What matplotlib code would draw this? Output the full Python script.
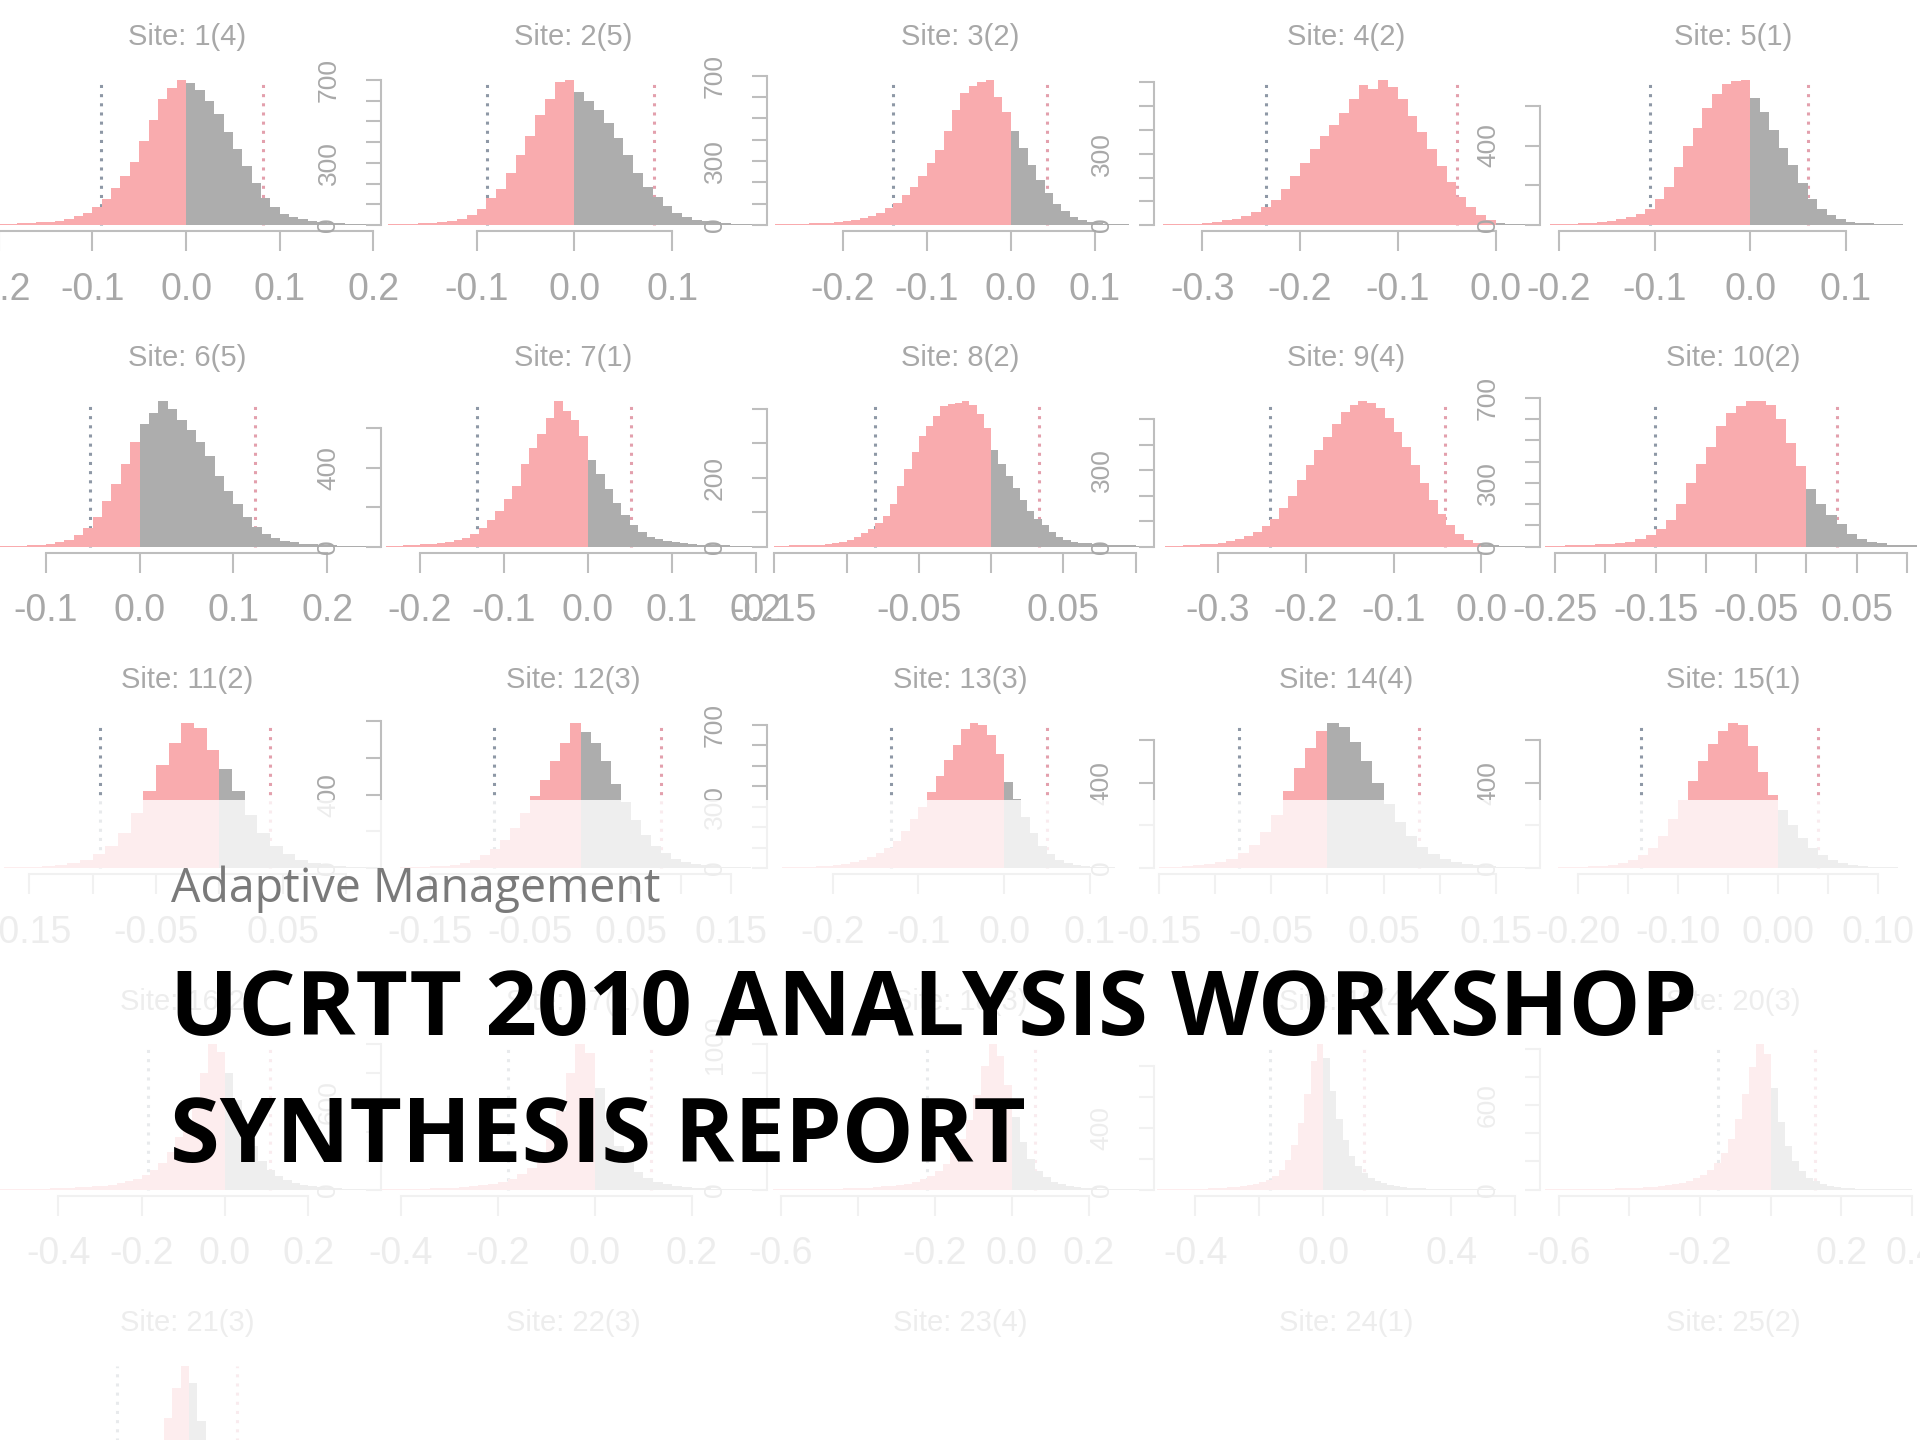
import numpy as np
import matplotlib
matplotlib.use("Agg")
import matplotlib.pyplot as plt
from matplotlib.patches import Rectangle

# panel titles, row by row (5 x 5 grid, bottom row is cut off)
titles = ["Site: 1(4)", "Site: 2(5)", "Site: 3(2)", "Site: 4(2)", "Site: 5(1)",
          "Site: 6(5)", "Site: 7(1)", "Site: 8(2)", "Site: 9(4)", "Site: 10(2)",
          "Site: 11(2)", "Site: 12(3)", "Site: 13(3)", "Site: 14(4)", "Site: 15(1)",
          "Site: 16(2)", "Site: 17(1)", "Site: 18(3)", "Site: 19(4)", "Site: 20(3)",
          "Site: 21(3)", "Site: 22(3)", "Site: 23(4)", "Site: 24(1)", "Site: 25(2)"]

# histogram counts (first bin edge in bin_starts, width in bin_widths)
site1 = [5, 6, 8, 10, 13, 17, 22, 30, 42, 58, 85, 125, 175, 235, 300, 400, 500, 600, 650, 690,
         675, 640, 590, 530, 440, 360, 280, 200, 130, 85, 55, 40, 28, 20, 16, 12, 10, 7, 5, 4]
site2 = [4, 5, 7, 9, 11, 14, 20, 30, 48, 80, 130, 175, 250, 340, 430, 530, 610, 690, 700,
         640, 600, 555, 490, 420, 340, 250, 185, 135, 90, 60, 40, 26, 18, 13, 9, 7, 5, 4]
site3 = [4, 5, 6, 7, 8, 10, 12, 15, 19, 24, 32, 42, 58, 80, 105, 140, 180, 230, 290, 350,
         440, 540, 620, 650, 670, 680, 600, 530, 440, 360, 280, 210, 150, 100, 65, 38, 22, 14,
         10, 7, 5, 4, 3, 3]
site4 = [3, 4, 5, 7, 10, 14, 20, 28, 40, 55, 75, 105, 150, 205, 260, 320, 375, 420, 470, 530,
         590, 570, 610, 580, 530, 460, 390, 320, 250, 180, 120, 75, 42, 20, 8, 5, 4, 3]
site5 = [4, 5, 7, 9, 11, 14, 20, 30, 42, 55, 80, 130, 190, 290, 400, 490, 590, 660, 710, 725,
         730, 640, 570, 480, 390, 300, 210, 130, 80, 50, 30, 18, 12, 9, 7, 5, 4, 3]
site6 = [4, 5, 6, 8, 11, 15, 22, 35, 60, 95, 150, 230, 320, 420, 530, 620, 680, 737, 700, 640,
         590, 530, 460, 360, 280, 215, 150, 100, 65, 45, 30, 22, 16, 12, 9, 7, 6, 5, 4, 3]
site7 = [4, 5, 7, 9, 12, 15, 19, 24, 32, 45, 65, 95, 135, 180, 240, 310, 420, 500, 570, 650,
         737, 690, 640, 560, 440, 370, 290, 220, 160, 110, 75, 50, 38, 28, 22, 18, 14, 11, 9, 8,
         7, 6, 5, 4]
site8 = [3, 3, 4, 4, 5, 5, 6, 8, 10, 13, 18, 28, 40, 52, 68, 90, 125, 175, 225, 275,
         320, 350, 380, 408, 413, 418, 422, 410, 385, 345, 280, 240, 205, 170, 135, 105, 80, 62,
         42, 28, 20, 15, 12, 10, 8, 7, 6, 5, 4, 4, 3, 3]
site9 = [3, 4, 5, 7, 9, 12, 16, 22, 30, 42, 58, 80, 110, 150, 200, 260, 320, 380, 430, 480,
         530, 555, 570, 565, 545, 505, 450, 390, 320, 250, 185, 130, 85, 50, 28, 15, 8, 5, 3, 2, 2]
site10 = [4, 5, 6, 7, 9, 11, 13, 17, 24, 35, 55, 85, 125, 200, 300, 390, 470, 570, 630, 660,
          684, 684, 665, 600, 490, 380, 270, 200, 150, 105, 60, 35, 22, 15, 10, 8, 6]
site11 = [4, 6, 8, 12, 18, 28, 45, 75, 120, 190, 300, 420, 560, 680, 790, 760, 640, 540, 420, 290,
          190, 120, 75, 45, 28, 18, 12, 8, 5]
site12 = [3, 4, 5, 7, 10, 14, 20, 30, 45, 70, 105, 155, 220, 300, 390, 480, 580, 680, 790, 740,
          680, 580, 460, 360, 260, 180, 120, 80, 52, 34, 22, 15, 10, 7, 5, 4, 3]
site13 = [3, 4, 5, 6, 8, 10, 13, 17, 22, 30, 40, 55, 75, 100, 135, 180, 240, 300, 370, 450,
          530, 600, 680, 710, 700, 650, 560, 420, 340, 250, 170, 110, 70, 42, 25, 15, 10, 7, 5, 4,
          3, 2, 2, 2]
site14 = [4, 6, 9, 13, 20, 30, 45, 70, 110, 170, 250, 360, 470, 560, 640, 680, 660, 590, 500, 400,
          300, 215, 150, 100, 65, 42, 28, 19, 13, 9, 7, 5, 4]
site15 = [3, 4, 5, 7, 9, 12, 17, 25, 38, 60, 95, 150, 230, 320, 410, 500, 580, 640, 680, 670,
          570, 450, 340, 270, 200, 140, 95, 60, 38, 24, 15, 10, 7, 5, 4, 3, 2]
site16 = [3, 4, 5, 6, 7, 8, 10, 12, 14, 16, 19, 23, 28, 35, 45, 58, 75, 100, 135, 185,
          260, 360, 470, 620, 800, 1000, 950, 800, 620, 430, 300, 200, 135, 95, 65, 45, 32, 24,
          18, 14, 11, 8, 6, 5, 4]
site17 = [3, 4, 5, 6, 7, 9, 11, 14, 18, 23, 30, 40, 55, 75, 105, 150, 230, 350, 540, 800,
          1000, 940, 700, 470, 300, 190, 120, 80, 55, 38, 27, 20, 15, 11, 8, 6, 5, 4, 3]
site18 = [2, 3, 3, 4, 4, 5, 6, 7, 8, 9, 11, 13, 15, 18, 22, 27, 33, 42, 55, 72,
          95, 130, 180, 250, 350, 480, 650, 850, 1000, 920, 720, 500, 330, 210, 130, 85, 55, 37,
          25, 18, 13, 10, 7, 5, 4, 3, 2, 2]
site19 = [2, 3, 3, 4, 4, 5, 6, 7, 8, 10, 12, 15, 18, 22, 28, 36, 48, 65, 90, 130,
          190, 290, 430, 620, 830, 940, 850, 640, 460, 320, 220, 150, 105, 75, 55, 40, 30, 23,
          18, 14, 11, 9, 7, 6, 5, 4, 4, 3, 3, 2, 2, 2, 2, 1, 1, 1, 1]
site20 = [2, 2, 3, 3, 4, 4, 5, 6, 7, 8, 9, 11, 13, 15, 18, 22, 27, 33, 40, 50,
          63, 80, 105, 140, 190, 260, 360, 500, 680, 870, 1030, 960, 720, 480, 310, 200, 130, 85,
          58, 40, 28, 20, 15, 11, 8, 6, 5, 4, 3, 2, 2, 2, 1]
site21 = [2, 3, 3, 4, 5, 6, 7, 9, 11, 14, 18, 23, 30, 40, 55, 80, 120, 190, 300, 450,
          640, 850, 1000, 880, 620, 420, 270, 170, 110, 72, 48, 33, 23, 16, 12, 9, 7, 5, 4, 3,
          3, 2, 2, 2, 1]

counts = [site1, site2, site3, site4, site5, site6, site7, site8, site9, site10, site11,
          site12, site13, site14, site15, site16, site17, site18, site19, site20, site21]

bin_starts = [-0.20, -0.19, -0.28, -0.34, -0.21,
              -0.15, -0.24, -0.15, -0.36, -0.26,
              -0.17, -0.19, -0.27, -0.15, -0.23,
              -0.54, -0.44, -0.62, -0.52, -0.64,
              -0.46]
bin_widths = [0.01, 0.01, 0.01, 0.01, 0.01,
              0.01, 0.01, 0.005, 0.01, 0.01,
              0.01, 0.01, 0.01, 0.01, 0.01,
              0.02, 0.02, 0.02, 0.02, 0.02,
              0.02]

# dotted interval limits
ci_low = [-0.091, -0.089, -0.140, -0.235, -0.105,
          -0.053, -0.132, -0.080, -0.241, -0.151,
          -0.094, -0.086, -0.132, -0.079, -0.137,
          -0.185, -0.179, -0.220, -0.167, -0.149,
          -0.173]
ci_high = [0.082, 0.081, 0.043, -0.039, 0.061,
           0.123, 0.051, 0.033, -0.042, 0.030,
           0.040, 0.080, 0.050, 0.082, 0.040,
           0.108, 0.115, 0.060, 0.128, 0.126,
           0.115]

# x ranges and tick labels as drawn in each panel
x_ranges = [(-0.205, 0.207), (-0.198, 0.196), (-0.290, 0.169), (-0.350, 0.045), (-0.220, 0.184),
            (-0.155, 0.256), (-0.247, 0.213), (-0.155, 0.112), (-0.373, 0.066), (-0.265, 0.119),
            (-0.178, 0.127), (-0.199, 0.185), (-0.277, 0.174), (-0.155, 0.189), (-0.238, 0.148),
            (-0.554, 0.372), (-0.442, 0.354), (-0.636, 0.366), (-0.531, 0.675), (-0.653, 0.440),
            (-0.468, 0.458)]
x_ticks = [[-0.2, -0.1, 0.0, 0.1, 0.2], [-0.1, 0.0, 0.1], [-0.2, -0.1, 0.0, 0.1],
           [-0.3, -0.2, -0.1, 0.0], [-0.2, -0.1, 0.0, 0.1],
           [-0.1, 0.0, 0.1, 0.2], [-0.2, -0.1, 0.0, 0.1, 0.2],
           [-0.15, -0.10, -0.05, 0.0, 0.05, 0.10], [-0.3, -0.2, -0.1, 0.0],
           [-0.25, -0.20, -0.15, -0.10, -0.05, 0.0, 0.05, 0.10],
           [-0.15, -0.10, -0.05, 0.0, 0.05, 0.10], [-0.15, -0.10, -0.05, 0.0, 0.05, 0.10, 0.15],
           [-0.2, -0.1, 0.0, 0.1], [-0.15, -0.10, -0.05, 0.0, 0.05, 0.10, 0.15],
           [-0.20, -0.15, -0.10, -0.05, 0.0, 0.05, 0.10],
           [-0.4, -0.2, 0.0, 0.2], [-0.4, -0.2, 0.0, 0.2], [-0.6, -0.4, -0.2, 0.0, 0.2],
           [-0.4, -0.2, 0.0, 0.2, 0.4, 0.6], [-0.6, -0.4, -0.2, 0.0, 0.2, 0.4],
           [-0.4, -0.2, 0.0, 0.2, 0.4]]
x_labels = [["-0.2", "-0.1", "0.0", "0.1", "0.2"], ["-0.1", "0.0", "0.1"],
            ["-0.2", "-0.1", "0.0", "0.1"], ["-0.3", "-0.2", "-0.1", "0.0"],
            ["-0.2", "-0.1", "0.0", "0.1"],
            ["-0.1", "0.0", "0.1", "0.2"], ["-0.2", "-0.1", "0.0", "0.1", "0.2"],
            ["-0.15", "", "-0.05", "", "0.05", ""], ["-0.3", "-0.2", "-0.1", "0.0"],
            ["-0.25", "", "-0.15", "", "-0.05", "", "0.05", ""],
            ["-0.15", "", "-0.05", "", "0.05", ""], ["-0.15", "", "-0.05", "", "0.05", "", "0.15"],
            ["-0.2", "-0.1", "0.0", "0.1"], ["-0.15", "", "-0.05", "", "0.05", "", "0.15"],
            ["-0.20", "", "-0.10", "", "0.00", "", "0.10"],
            ["-0.4", "-0.2", "0.0", "0.2"], ["-0.4", "-0.2", "0.0", "0.2"],
            ["-0.6", "", "-0.2", "0.0", "0.2"], ["-0.4", "", "0.0", "", "0.4", ""],
            ["-0.6", "", "-0.2", "", "0.2", "0.4"], ["-0.4", "-0.2", "0.0", "0.2", "0.4"]]

# y axis: tick step, top tick, labelled ticks
y_step = [100, 100, 100, 100, 200, 100, 200, 100, 100, 100, 200,
          200, 100, 200, 200, 200, 200, 200, 200, 200, 200]
y_top = [700, 700, 700, 600, 600, 700, 600, 400, 500, 700, 800,
         800, 700, 600, 600, 1000, 1000, 1000, 800, 1000, 1000]
y_shown = [(0, 300, 700), (0, 300, 700), (0, 300, 700), (0, 300), (0, 400),
           (0, 300, 700), (0, 400), (0, 200), (0, 300), (0, 300, 700),
           (0, 400), (0, 400), (0, 300, 700), (0, 400), (0, 400),
           (0, 600), (0, 600), (0, 1000), (0, 400), (0, 600),
           (0, 600)]

PINK = "#F9ABAE"
GREY = "#ADADAD"
AXIS_COL = "#BEBEBE"
TEXT_COL = "#A8A8A8"
LOW_COL = "#8E98A6"
HIGH_COL = "#E3A0AD"

W, H = 1920, 1440
COL_X0, COL_STEP, AX_W = -6, 386.5, 386
ROW_Y0, ROW_STEP, AX_H = 231, 321.5, 157

fig = plt.figure(figsize=(W / 100, H / 100), dpi=100)
fig.patch.set_facecolor("white")


def draw_panel(i):
    r, c = divmod(i, 5)
    left = COL_X0 + COL_STEP * c
    bottom = ROW_Y0 + ROW_STEP * r
    ax = fig.add_axes([left / W, 1 - bottom / H, AX_W / W, AX_H / H])
    ax.set_facecolor("none")

    h = np.array(counts[i], dtype=float)
    edges = np.round(bin_starts[i] + bin_widths[i] * np.arange(len(h) + 1), 4)
    k = np.searchsorted(edges, 0.0)
    top = h.max()

    ax.vlines([ci_low[i]], 0, top, colors=LOW_COL, linestyles=(0, (1, 2)), lw=2.2, zorder=1)
    ax.vlines([ci_high[i]], 0, top, colors=HIGH_COL, linestyles=(0, (1, 2)), lw=2.2, zorder=1)
    if k > 0:
        ax.stairs(h[:k], edges[:k + 1], fill=True, color=PINK, lw=0, zorder=2)
    if k < len(h):
        ax.stairs(h[k:], edges[k:], fill=True, color=GREY, lw=0, zorder=2)

    ax.set_xlim(*x_ranges[i])
    ax.set_ylim(-0.04 * top, 1.04 * top)

    for s in ("top", "right"):
        ax.spines[s].set_visible(False)
    for s in ("left", "bottom"):
        ax.spines[s].set_color(AXIS_COL)
        ax.spines[s].set_linewidth(1.5)

    xt = x_ticks[i]
    ax.set_xticks(xt)
    ax.set_xticklabels(x_labels[i], family=["Liberation Sans Narrow", "Liberation Sans"],
                       fontsize=27, color=TEXT_COL)
    ax.spines["bottom"].set_bounds(xt[0], xt[-1])

    yt = np.arange(0, y_top[i] + 1, y_step[i])
    ax.set_yticks(yt)
    ax.set_yticklabels([str(v) if v in y_shown[i] else "" for v in yt],
                       family="Liberation Sans", fontsize=19, color=TEXT_COL,
                       rotation=90, va="center")
    ax.spines["left"].set_bounds(0, y_top[i])

    ax.tick_params(axis="x", length=14.4, width=1.5, color=AXIS_COL, pad=15)
    ax.tick_params(axis="y", length=10.8, width=1.5, color=AXIS_COL, pad=18)


for i in range(len(counts)):
    draw_panel(i)

# titles (all 25, the last four panels show no histogram in the visible area)
for i, t in enumerate(titles):
    r, c = divmod(i, 5)
    cx = COL_X0 + COL_STEP * c + AX_W / 2
    cy = 37 + ROW_STEP * r
    fig.text(cx / W, 1 - cy / H, t, ha="center", va="center", fontsize=21,
             family="Liberation Sans", color=TEXT_COL)

# white wash over the lower part of the slide
fig.add_artist(Rectangle((0, 0), 1, 640 / H, transform=fig.transFigure,
                         facecolor="white", edgecolor="none", alpha=0.8, zorder=5))

fig.text(171 / W, 1 - 902 / H, "Adaptive Management", fontsize=33.5, color="#7A7A7A",
         family="Open Sans", ha="left", va="baseline", zorder=6)
fig.text(170 / W, 1 - 1035 / H, "UCRTT 2010 ANALYSIS WORKSHOP", fontsize=65.1,
         fontweight="bold", family="Open Sans", color="black", ha="left", va="baseline", zorder=6)
fig.text(170 / W, 1 - 1162 / H, "SYNTHESIS REPORT", fontsize=65.1,
         fontweight="bold", family="Open Sans", color="black", ha="left", va="baseline", zorder=6)

fig.savefig("out.png", dpi=100, facecolor="white")
